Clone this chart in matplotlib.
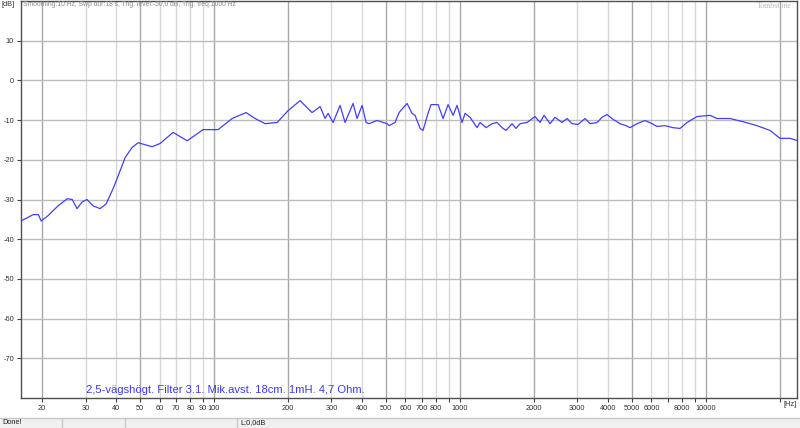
import matplotlib
matplotlib.use("Agg")
import matplotlib.pyplot as plt
from matplotlib.patches import Rectangle
from matplotlib.lines import Line2D
import numpy as np

# ---- data ----
freq_hz = [16.4, 18.4, 19.3, 19.8, 21.1, 23.2, 25.3, 26.5, 27.7, 29.1, 30.4, 32.2, 34.4,
           36.4, 38.5, 40.0, 43.5, 46.4, 49.1, 52.4, 56.0, 60.3, 68.1, 77.7, 90.2, 103.8,
           118.4, 134.9, 146.8, 161.2, 180.4, 200, 223.7, 250.2, 269.8, 282.7, 290.7, 304.6,
           325.2, 340.8, 367.3, 381.3, 399.6, 414.9, 426.7, 459.8, 505, 514.5, 544.3, 564.9,
           609, 638, 656, 688, 707, 741, 762, 814, 853, 894, 937, 972, 1019, 1048, 1098,
           1173, 1206, 1276, 1349, 1414, 1482, 1538, 1627, 1689, 1754, 1873, 2018, 2114,
           2195, 2322, 2433, 2598, 2723, 2853, 3018, 3222, 3377, 3606, 3778, 3959, 4188,
           4471, 4729, 4910, 5243, 5649, 6032, 6321, 6810, 7342, 7842, 8374, 9193, 10380,
           11080, 12520, 14140, 16120, 18200, 20000, 21950, 23660]
level_db = [-35.4, -33.8, -33.8, -35.4, -34.1, -31.6, -29.8, -30.0, -32.3, -30.6, -30.0,
            -31.6, -32.3, -31.1, -27.8, -25.3, -19.4, -16.9, -15.7, -16.2, -16.7, -15.9,
            -13.1, -15.2, -12.4, -12.4, -9.6, -8.1, -9.6, -10.9, -10.6, -7.6, -5.1, -8.1,
            -6.6, -9.6, -8.3, -10.6, -6.3, -10.6, -5.8, -9.6, -6.3, -10.6, -10.9, -10.1,
            -10.9, -11.4, -10.6, -8.1, -5.8, -8.3, -8.8, -12.1, -12.6, -8.3, -6.1, -6.1,
            -9.6, -6.1, -8.8, -6.3, -10.6, -8.3, -9.3, -11.9, -10.6, -11.9, -10.9, -10.6,
            -11.9, -12.6, -10.9, -12.1, -10.9, -10.6, -9.1, -10.6, -8.8, -10.9, -9.3, -10.6,
            -9.6, -10.9, -11.1, -9.6, -10.9, -10.6, -9.3, -8.6, -9.8, -10.9, -11.4, -11.9,
            -10.9, -10.1, -10.9, -11.6, -11.4, -11.9, -12.1, -10.6, -9.1, -8.8, -9.6, -9.6,
            -10.4, -11.4, -12.6, -14.6, -14.6, -15.2]

x_tick_labels = ["20", "30", "40", "50", "60", "70", "80", "90", "100", "200", "300", "400",
                 "500", "600", "700", "800", "1000", "2000", "3000", "4000", "5000", "6000",
                 "8000", "10000"]
y_ticks = [10, 0, -10, -20, -30, -40, -50, -60, -70]
header = "Smoothing:10 Hz, Swp dur:18 s, Trig. level:-50,0 dB, Trig. freq:1000 Hz"
note = "2,5-vägshögt. Filter 3.1. Mik.avst. 18cm. 1mH. 4,7 Ohm."

W, H = 800, 428
fig = plt.figure(figsize=(W / 100, H / 100), dpi=100)
fig.patch.set_facecolor("white")

# axes occupying x 21..797 px, y 1..398 px
ax = fig.add_axes([21 / W, 30 / H, 776 / W, 397 / H])
ax.set_xscale("log")
ax.set_xlim(16.4, 23440)
ax.set_ylim(-80, 20)
ax.set_facecolor("white")

# vertical grid
all_ticks = []
for dec in [10, 100, 1000, 10000]:
    for m in range(1, 10):
        f = m * dec
        if 20 <= f <= 20000:
            all_ticks.append(f)
for f in all_ticks:
    lead = int(str(f)[0])
    col = "#a8a8a8" if lead in (1, 2, 5) else "#d8d8d8"
    ax.axvline(f, color=col, lw=1.0, zorder=1)
for yv in y_ticks:
    ax.axhline(yv, color="#bcbcbc", lw=1.0, zorder=1)

ax.plot(freq_hz, level_db, color="#4040f5", lw=0.9, zorder=3)

ax.set_xticks(all_ticks)
lab = []
for f in all_ticks:
    lab.append(str(f) if str(f) in x_tick_labels else "")
ax.set_xticklabels(lab)
ax.xaxis.set_minor_locator(matplotlib.ticker.NullLocator())
ax.set_yticks(y_ticks)
ax.set_yticklabels([str(v) for v in y_ticks])
ax.tick_params(axis="both", length=3, width=0.8, color="#404040",
               labelsize=5.3, labelcolor="#303030", pad=2)
for lbl in ax.get_xticklabels() + ax.get_yticklabels():
    lbl.set_family("Liberation Sans")
for s in ax.spines.values():
    s.set_color("#505050")
    s.set_linewidth(1.0)

# texts
def px(x, y):
    return x / W, 1 - y / H

fig.text(*px(23, 5), header, fontsize=4.9, color="#8a8a8a", family="Liberation Sans",
         va="center", ha="left")
fig.text(*px(792, 6), "Tombstone", fontsize=5.8, color="#b8b8b8", family="Liberation Serif",
         va="center", ha="right")
fig.text(*px(1, 4), "[dB]", fontsize=5.3, color="#303030", family="Liberation Sans",
         va="center", ha="left")
fig.text(*px(797, 405), "[Hz]", fontsize=5.3, color="#303030", family="Liberation Sans",
         va="center", ha="right")
fig.text(*px(86, 390), note, fontsize=8.1, color="#3c3cf5", family="Liberation Sans",
         va="center", ha="left")

# status bar
fig.patches.append(Rectangle((0, 0), 1, 10 / H, transform=fig.transFigure,
                             facecolor="#f0f0f0", edgecolor="none", zorder=0))
fig.lines.append(Line2D([0, 1], [10.5 / H, 10.5 / H], transform=fig.transFigure,
                        color="#c8c8c8", lw=1))
for xs in [62, 125, 237]:
    fig.lines.append(Line2D([xs / W, xs / W], [0, 10 / H], transform=fig.transFigure,
                            color="#c8c8c8", lw=1))
fig.text(*px(2, 423), "Done!", fontsize=5.3, color="#202020", family="Liberation Sans",
         va="center", ha="left")
fig.text(*px(240, 423), "L:0,0dB", fontsize=5.3, color="#202020", family="Liberation Sans",
         va="center", ha="left")

fig.savefig("out.png", dpi=100, facecolor="white")
